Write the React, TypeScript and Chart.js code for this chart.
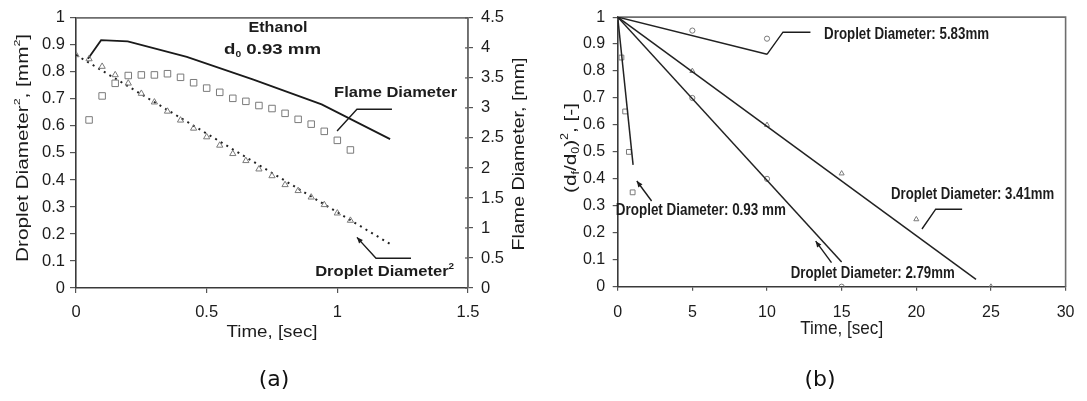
import React, { useEffect, useRef } from "react";
import { Chart, registerables } from "chart.js";

Chart.register(...registerables);

// ---------- Chart (a): Ethanol, d0 0.93 mm ----------
const timeFlameA = [0.05, 0.1, 0.15, 0.2, 0.25, 0.3, 0.35, 0.4, 0.45, 0.5, 0.55, 0.6, 0.65, 0.7, 0.75, 0.8, 0.85, 0.9, 0.95, 1.0, 1.05];
const flameDiameterA = [2.8, 3.2, 3.41, 3.54, 3.55, 3.55, 3.57, 3.51, 3.42, 3.33, 3.26, 3.16, 3.11, 3.04, 2.99, 2.91, 2.81, 2.73, 2.61, 2.46, 2.3];
const timeDropletA = [0, 0.05, 0.1, 0.15, 0.2, 0.25, 0.3, 0.35, 0.4, 0.45, 0.5, 0.55, 0.6, 0.65, 0.7, 0.75, 0.8, 0.85, 0.9, 0.95, 1.0, 1.05];
const dropletSqA = [0.863, 0.848, 0.82, 0.789, 0.758, 0.72, 0.688, 0.654, 0.621, 0.591, 0.559, 0.528, 0.497, 0.471, 0.44, 0.415, 0.382, 0.36, 0.336, 0.308, 0.277, 0.25];
const dropletFitTimeA = [0, 1.2];
const dropletFitA = [0.863, 0.164];
const flameLineTimeA = [0.046, 0.096, 0.198, 0.424, 0.679, 0.94, 1.202];
const flameLineA = [3.82, 4.13, 4.11, 3.85, 3.47, 3.06, 2.48];

// ---------- Chart (b): normalised droplet diameter squared ----------
const time093 = [0, 0.25, 0.5, 0.75, 1.0];
const ratio093 = [1, 0.85, 0.65, 0.5, 0.35];
const fitTime093 = [0, 1.03];
const fit093 = [1, 0.452];

const time279 = [0, 5, 10, 15];
const ratio279 = [1, 0.7, 0.4, 0];
const fitTime279 = [0, 15];
const fit279 = [1, 0.092];

const time341 = [0, 5, 10, 15, 20, 25];
const ratio341 = [1, 0.8, 0.6, 0.42, 0.25, 0];
const fitTime341 = [0, 24];
const fit341 = [1, 0.027];

const time583 = [0, 5, 10];
const ratio583 = [1, 0.95, 0.92];
const fitTime583 = [0, 10];
const fit583 = [1, 0.862];

const pts = (xs: number[], ys: number[]) => xs.map((x, i) => ({ x, y: ys[i] }));
const fmt = (v: number) => String(Math.round(v * 100) / 100);

const SANS = "'Liberation Sans', Arial, Helvetica, sans-serif";
const INK = "#1c1c1c";
const MARK = "#7a7a7a";

type Seg = { t: string; s?: number; dy?: number };

function drawRich(
  ctx: CanvasRenderingContext2D,
  segs: Seg[],
  cx: number,
  cy: number,
  size: number,
  weight: string,
  targetWidth?: number,
  rotate = 0,
  family = SANS,
  color = INK
) {
  ctx.save();
  ctx.translate(cx, cy);
  if (rotate) ctx.rotate(rotate);
  let total = 0;
  const widths = segs.map((sg) => {
    ctx.font = `${weight} ${size * (sg.s ?? 1)}px ${family}`;
    const w = ctx.measureText(sg.t).width;
    total += w;
    return w;
  });
  const sx = targetWidth ? targetWidth / total : 1;
  ctx.scale(sx, 1);
  ctx.textBaseline = "middle";
  ctx.textAlign = "left";
  ctx.fillStyle = color;
  let x = -total / 2;
  segs.forEach((sg, i) => {
    ctx.font = `${weight} ${size * (sg.s ?? 1)}px ${family}`;
    ctx.fillText(sg.t, x, (sg.dy ?? 0) * size);
    x += widths[i];
  });
  ctx.restore();
}

function polyline(ctx: CanvasRenderingContext2D, p: number[][], arrow: boolean) {
  ctx.save();
  ctx.strokeStyle = INK;
  ctx.fillStyle = INK;
  ctx.lineWidth = 1.4;
  ctx.beginPath();
  p.forEach((q, i) => (i ? ctx.lineTo(q[0], q[1]) : ctx.moveTo(q[0], q[1])));
  ctx.stroke();
  if (arrow) {
    const a = p[p.length - 2];
    const b = p[p.length - 1];
    const ang = Math.atan2(b[1] - a[1], b[0] - a[0]);
    const L = 6;
    const W = 2.6;
    ctx.beginPath();
    ctx.moveTo(b[0], b[1]);
    ctx.lineTo(b[0] - L * Math.cos(ang) + W * Math.sin(ang), b[1] - L * Math.sin(ang) - W * Math.cos(ang));
    ctx.lineTo(b[0] - L * Math.cos(ang) - W * Math.sin(ang), b[1] - L * Math.sin(ang) + W * Math.cos(ang));
    ctx.closePath();
    ctx.fill();
  }
  ctx.restore();
}

function frame(chart: any) {
  const { ctx, chartArea: c } = chart;
  ctx.save();
  ctx.strokeStyle = "#6e6e6e";
  ctx.lineWidth = 1.6;
  ctx.beginPath();
  ctx.moveTo(c.left, c.top);
  ctx.lineTo(c.right, c.top);
  ctx.lineTo(c.right, c.bottom);
  ctx.stroke();
  ctx.restore();
}

// Annotation anchors in data units
const annA = {
  ethanol: [0.773, 0.963],
  d0: [0.752, 0.882],
  flame: [1.223, 0.721],
  flameLeader: [[1.209, 0.662], [1.075, 0.662], [0.999, 0.581]],
  droplet: [1.181, 0.059],
  dropletLeader: [[1.282, 0.11], [1.148, 0.11], [1.075, 0.1875]],
};
const annB = {
  l583: [19.35, 0.934],
  leader583: [[10, 0.862], [11.07, 0.944], [12.91, 0.944]],
  l093: [5.57, 0.281],
  arrow093: [[2.27, 0.318], [1.28, 0.392]],
  l279: [17.08, 0.049],
  arrow279: [[14.32, 0.089], [13.26, 0.169]],
  l341: [23.77, 0.34],
  leader341: [[23.07, 0.2875], [21.3, 0.2875], [20.38, 0.214]],
};

export default function App() {
  const refA = useRef<HTMLCanvasElement>(null);
  const refB = useRef<HTMLCanvasElement>(null);

  useEffect(() => {
    const tickFontA = { family: SANS, size: 16.5 };
    const tickFontB = { family: SANS, size: 16 };

    const overlayA = {
      id: "overlayA",
      beforeDatasetsDraw(chart: any) {
        frame(chart);
      },
      afterDraw(chart: any) {
        const ctx = chart.ctx as CanvasRenderingContext2D;
        const X = (v: number) => chart.scales.x.getPixelForValue(v);
        const Y = (v: number) => chart.scales.y.getPixelForValue(v);
        const P = (q: number[]) => [X(q[0]), Y(q[1])];
        const c = chart.chartArea;
        drawRich(ctx, [{ t: "Ethanol" }], X(annA.ethanol[0]), Y(annA.ethanol[1]), 15, "bold", 59);
        drawRich(ctx, [{ t: "d" }, { t: "0", s: 0.55, dy: 0.3 }, { t: " 0.93 mm" }], X(annA.d0[0]), Y(annA.d0[1]), 15, "bold", 97);
        drawRich(ctx, [{ t: "Flame Diameter" }], X(annA.flame[0]), Y(annA.flame[1]), 15, "bold", 123);
        polyline(ctx, annA.flameLeader.map(P), false);
        drawRich(ctx, [{ t: "Droplet Diameter" }, { t: "2", s: 0.6, dy: -0.35 }], X(annA.droplet[0]), Y(annA.droplet[1]), 15, "bold", 139);
        polyline(ctx, annA.dropletLeader.map(P), true);
        // right-axis ticks also reach a little inside the plot
        const y2 = chart.scales.y2;
        ctx.save();
        ctx.strokeStyle = "#555";
        ctx.lineWidth = 1.2;
        y2.ticks.forEach((t: any) => {
          const py = y2.getPixelForValue(t.value);
          ctx.beginPath();
          ctx.moveTo(c.right - 3, py);
          ctx.lineTo(c.right, py);
          ctx.stroke();
        });
        ctx.restore();
        // axis titles
        drawRich(ctx, [{ t: "Droplet Diameter" }, { t: "2", s: 0.6, dy: -0.35 }, { t: ", [mm" }, { t: "2", s: 0.6, dy: -0.35 }, { t: "]" }], 23.5, (c.top + c.bottom) / 2 - 5, 16.5, "normal", 228, -Math.PI / 2);
        drawRich(ctx, [{ t: "Flame Diameter, [mm]" }], 519, (c.top + c.bottom) / 2 + 1, 16.5, "normal", 193, -Math.PI / 2);
        drawRich(ctx, [{ t: "Time, [sec]" }], (c.left + c.right) / 2, c.bottom + 44, 16.5, "normal", 91);
        drawRich(ctx, [{ t: "(a)" }], (c.left + c.right) / 2 + 2, 380, 22, "normal", undefined, 0, "'DejaVu Sans', sans-serif", "#111");
      },
    };

    const overlayB = {
      id: "overlayB",
      beforeDatasetsDraw(chart: any) {
        frame(chart);
      },
      afterDraw(chart: any) {
        const ctx = chart.ctx as CanvasRenderingContext2D;
        const X = (v: number) => chart.scales.x.getPixelForValue(v);
        const Y = (v: number) => chart.scales.y.getPixelForValue(v);
        const P = (q: number[]) => [X(q[0]), Y(q[1])];
        const c = chart.chartArea;
        drawRich(ctx, [{ t: "Droplet Diameter: 5.83mm" }], X(annB.l583[0]), Y(annB.l583[1]), 16, "bold", 165);
        polyline(ctx, annB.leader583.map(P), false);
        drawRich(ctx, [{ t: "Droplet Diameter: 0.93 mm" }], X(annB.l093[0]), Y(annB.l093[1]), 16, "bold", 170);
        polyline(ctx, annB.arrow093.map(P), true);
        drawRich(ctx, [{ t: "Droplet Diameter: 2.79mm" }], X(annB.l279[0]), Y(annB.l279[1]), 16, "bold", 164);
        polyline(ctx, annB.arrow279.map(P), true);
        drawRich(ctx, [{ t: "Droplet Diameter: 3.41mm" }], X(annB.l341[0]), Y(annB.l341[1]), 16, "bold", 163);
        polyline(ctx, annB.leader341.map(P), false);
        drawRich(
          ctx,
          [{ t: "(d" }, { t: "f", s: 0.6, dy: 0.3 }, { t: "/d" }, { t: "0", s: 0.6, dy: 0.3 }, { t: ")" }, { t: "2", s: 0.6, dy: -0.35 }, { t: ", [-]" }],
          26,
          148,
          17,
          "normal",
          90,
          -Math.PI / 2
        );
        drawRich(ctx, [{ t: "Time, [sec]" }], (c.left + c.right) / 2, c.bottom + 42.5, 19, "normal", 83);
        drawRich(ctx, [{ t: "(b)" }], 275, 380, 22, "normal", undefined, 0, "'DejaVu Sans', sans-serif", "#111");
      },
    };

    const axisCommon = {
      type: "linear" as const,
      border: { color: "#3a3a3a", width: 1.6 },
    };

    const chartA = new Chart(refA.current!, {
      type: "scatter",
      data: {
        datasets: [
          {
            label: "Flame Diameter",
            data: pts(timeFlameA, flameDiameterA),
            yAxisID: "y2",
            showLine: false,
            pointStyle: "rect",
            pointRadius: 4.6,
            borderColor: MARK,
            borderWidth: 1,
            backgroundColor: "rgba(0,0,0,0)",
          },
          {
            label: "Droplet Diameter^2",
            data: pts(timeDropletA, dropletSqA),
            yAxisID: "y",
            showLine: false,
            pointStyle: "triangle",
            pointRadius: 3.6,
            borderColor: MARK,
            borderWidth: 1,
            backgroundColor: "rgba(0,0,0,0)",
          },
          {
            label: "Droplet fit",
            data: pts(dropletFitTimeA, dropletFitA),
            yAxisID: "y",
            showLine: true,
            borderDash: [2, 4.5],
            borderWidth: 2,
            borderColor: "#222",
            pointRadius: 0,
          },
          {
            label: "Flame line",
            data: pts(flameLineTimeA, flameLineA),
            yAxisID: "y2",
            showLine: true,
            borderWidth: 1.8,
            borderColor: "#1a1a1a",
            pointRadius: 0,
          },
        ],
      },
      options: {
        responsive: false,
        devicePixelRatio: 1,
        animation: false,
        layout: { padding: { top: 16, left: 0, right: 0, bottom: 0 } },
        plugins: { legend: { display: false }, tooltip: { enabled: false } },
        scales: {
          x: {
            ...axisCommon,
            min: 0,
            max: 1.5,
            ticks: { stepSize: 0.5, font: tickFontA, color: INK, padding: 10, autoSkip: false, callback: (v: any) => fmt(Number(v)), maxRotation: 0 },
            grid: { drawOnChartArea: false, drawTicks: true, tickLength: 5, color: "#555", lineWidth: 1.2 },
            afterFit: (s: any) => {
              s.height = 113;
            },
          },
          y: {
            ...axisCommon,
            position: "left",
            min: 0,
            max: 1,
            ticks: { stepSize: 0.1, font: tickFontA, color: INK, padding: 5, autoSkip: false, callback: (v: any) => fmt(Number(v)) },
            grid: { drawOnChartArea: false, drawTicks: true, tickLength: 6, color: "#555", lineWidth: 1.2 },
            afterFit: (s: any) => {
              s.width = 76;
            },
          },
          y2: {
            ...axisCommon,
            position: "right",
            min: 0,
            max: 4.5,
            border: { color: "#6e6e6e", width: 1.6 },
            ticks: { stepSize: 0.5, font: tickFontA, color: INK, padding: 8, autoSkip: false, callback: (v: any) => fmt(Number(v)) },
            grid: { drawOnChartArea: false, drawTicks: true, tickLength: 5, color: "#555", lineWidth: 1.2 },
            afterFit: (s: any) => {
              s.width = 77;
            },
          },
        },
      } as any,
      plugins: [overlayA],
    });

    const markerDs = (label: string, data: any[], style: string, r: number) => ({
      label,
      data,
      showLine: false,
      pointStyle: style,
      pointRadius: r,
      borderColor: MARK,
      borderWidth: 1,
      backgroundColor: "rgba(0,0,0,0)",
    });
    const fitDs = (label: string, data: any[]) => ({
      label,
      data,
      showLine: true,
      borderWidth: 1.5,
      borderColor: "#222",
      pointRadius: 0,
    });

    const chartB = new Chart(refB.current!, {
      type: "scatter",
      data: {
        datasets: [
          fitDs("fit 0.93", pts(fitTime093, fit093)),
          fitDs("fit 2.79", pts(fitTime279, fit279)),
          fitDs("fit 3.41", pts(fitTime341, fit341)),
          fitDs("fit 5.83", pts(fitTime583, fit583)),
          markerDs("0.93 mm", pts(time093, ratio093), "rect", 3.4),
          markerDs("2.79 mm", pts(time279, ratio279), "circle", 2.6),
          markerDs("3.41 mm", pts(time341, ratio341), "triangle", 2.9),
          markerDs("5.83 mm", pts(time583, ratio583), "circle", 2.6),
        ],
      },
      options: {
        responsive: false,
        devicePixelRatio: 1,
        animation: false,
        layout: { padding: { top: 14, left: 0, right: 15.3, bottom: 0 } },
        plugins: { legend: { display: false }, tooltip: { enabled: false } },
        scales: {
          x: {
            ...axisCommon,
            min: 0,
            max: 30,
            ticks: { stepSize: 5, font: tickFontB, color: INK, padding: 12.5, autoSkip: false, callback: (v: any) => fmt(Number(v)), maxRotation: 0 },
            grid: { drawOnChartArea: false, drawTicks: true, tickLength: 4, color: "#555", lineWidth: 1.2 },
            afterFit: (s: any) => {
              s.height = 114.3;
            },
          },
          y: {
            ...axisCommon,
            position: "left",
            min: 0,
            max: 1,
            ticks: { stepSize: 0.1, font: tickFontB, color: INK, padding: 7.5, autoSkip: false, callback: (v: any) => fmt(Number(v)) },
            grid: { drawOnChartArea: false, drawTicks: true, tickLength: 5, color: "#555", lineWidth: 1.2 },
            afterFit: (s: any) => {
              s.width = 72.7;
            },
          },
        },
      } as any,
      plugins: [overlayB],
    });

    return () => {
      chartA.destroy();
      chartB.destroy();
    };
  }, []);

  return (
    <div style={{ position: "fixed", left: 0, top: 0, width: 1087, height: 401, background: "#fff" }}>
      <canvas ref={refA} width={545} height={401} style={{ position: "absolute", left: 0, top: 0, width: 545, height: 401 }} />
      <canvas ref={refB} width={542} height={401} style={{ position: "absolute", left: 545, top: 0, width: 542, height: 401 }} />
    </div>
  );
}
